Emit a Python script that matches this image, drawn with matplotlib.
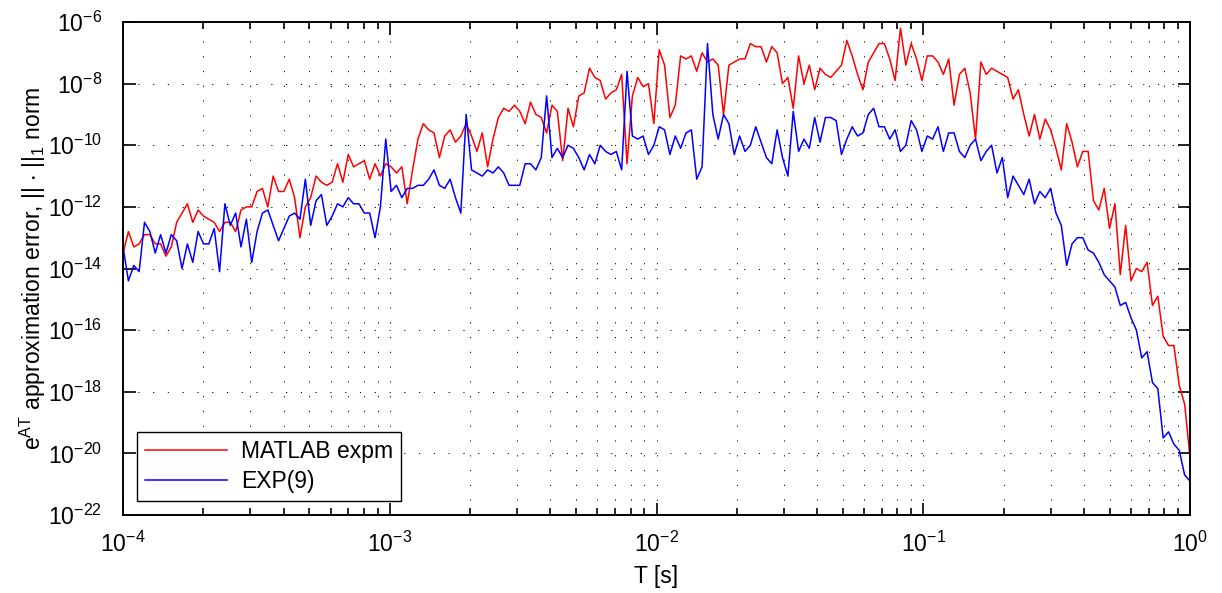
import numpy as np
import matplotlib
matplotlib.use("Agg")
import matplotlib.pyplot as plt
from matplotlib.ticker import LogLocator, NullLocator, FixedLocator, LogFormatterSciNotation

plt.rcParams['font.family'] = ['Liberation Sans', 'DejaVu Sans']
plt.rcParams['mathtext.default'] = 'regular'
plt.rcParams['axes.unicode_minus'] = False

# sample times, 200 log-spaced points between 1e-4 and 1 s
T = np.logspace(-4, 0, 200)

# log10 of the ||.||_1 error of e^{AT}, MATLAB expm
expm_log_err = [
    -13.5, -12.8, -13.3, -13.2, -12.9, -12.9, -13.2, -13.2, -13.6, -13.3,
    -12.5, -12.2, -11.9, -12.5, -12.1, -12.3, -12.4, -12.5, -12.8, -12.5,
    -12.5, -12.8, -12.1, -12.0, -12.0, -11.5, -11.4, -12.0, -11.0, -11.5,
    -11.5, -11.1, -11.7, -13.0, -12.0, -11.7, -11.0, -11.2, -11.3, -11.2,
    -10.6, -11.2, -10.3, -10.7, -10.6, -10.5, -11.1, -10.6, -11.0, -10.6,
    -10.7, -10.9, -10.7, -11.9, -10.8, -9.8, -9.3, -9.5, -9.6, -10.4,
    -9.7, -9.5, -9.9, -9.7, -9.3, -9.7, -10.2, -9.6, -10.7, -9.8,
    -9.1, -8.8, -8.9, -8.7, -8.9, -9.3, -8.6, -9.0, -9.1, -9.6,
    -8.7, -8.9, -10.5, -8.8, -9.4, -8.4, -8.3, -7.5, -7.8, -7.9,
    -8.5, -8.3, -8.2, -7.7, -10.6, -8.4, -7.8, -8.1, -8.0, -9.3,
    -6.9, -7.4, -9.1, -8.7, -7.1, -7.2, -7.1, -7.6, -7.0, -7.3,
    -7.2, -7.4, -9.0, -7.4, -7.3, -7.2, -7.2, -6.7, -6.8, -6.8,
    -7.3, -6.8, -7.0, -8.0, -7.8, -8.8, -7.1, -8.0, -7.4, -8.2,
    -7.5, -7.7, -7.8, -7.6, -7.4, -6.6, -7.1, -7.7, -8.2, -7.3,
    -7.0, -6.7, -6.7, -7.2, -7.9, -6.2, -7.4, -6.7, -7.2, -7.9,
    -7.1, -7.1, -7.3, -7.7, -7.2, -8.7, -7.7, -7.5, -8.3, -9.8,
    -7.3, -7.7, -7.5, -7.6, -7.7, -7.8, -8.5, -8.2, -9.0, -9.7,
    -9.0, -9.8, -9.15, -9.5, -10.1, -10.8, -9.3, -9.9, -10.7, -10.2,
    -10.2, -11.8, -12.1, -11.4, -12.7, -11.9, -14.2, -12.6, -14.4, -14.0,
    -14.1, -13.8, -15.2, -14.9, -16.2, -16.5, -16.5, -17.8, -18.4, -20.1,
]

# log10 of the ||.||_1 error of e^{AT}, EXP(9)
exp9_log_err = [
    -13.3, -14.4, -13.9, -14.1, -12.5, -12.8, -13.5, -12.9, -13.5, -12.9,
    -13.1, -14.0, -13.2, -13.8, -12.8, -13.2, -13.2, -12.7, -14.1, -11.9,
    -12.6, -12.2, -13.3, -12.4, -13.8, -12.8, -12.2, -12.1, -12.6, -13.1,
    -12.7, -12.3, -12.2, -12.4, -11.1, -12.6, -11.8, -11.6, -12.6, -12.3,
    -11.9, -12.0, -11.7, -11.9, -11.9, -12.2, -12.2, -13.0, -12.0, -9.8,
    -11.5, -11.3, -11.7, -11.4, -11.4, -11.3, -11.3, -11.1, -10.8, -11.3,
    -11.4, -11.1, -11.7, -12.2, -9.0, -10.8, -10.9, -11.0, -10.8, -10.9,
    -10.7, -10.9, -11.3, -11.3, -11.3, -10.6, -10.6, -10.8, -10.4, -8.4,
    -10.4, -10.1, -10.4, -10.0, -10.1, -10.4, -10.8, -10.3, -10.6, -10.0,
    -10.2, -10.3, -10.2, -10.8, -7.6, -9.7, -9.8, -9.7, -10.3, -10.0,
    -9.4, -9.5, -10.3, -9.7, -10.1, -9.6, -9.5, -11.1, -10.7, -6.7,
    -9.0, -9.8, -9.0, -9.3, -10.3, -9.7, -10.2, -10.0, -9.4, -9.9,
    -10.4, -10.6, -9.5, -10.4, -11.0, -8.9, -10.2, -9.8, -10.1, -9.1,
    -9.9, -9.1, -9.1, -9.2, -10.3, -9.8, -9.4, -9.7, -9.6, -9.0,
    -8.8, -9.4, -9.4, -9.8, -9.5, -10.2, -10.0, -9.2, -9.5, -10.2,
    -9.7, -9.8, -9.4, -10.2, -9.6, -9.6, -10.2, -10.4, -10.0, -9.8,
    -10.5, -10.2, -10.0, -10.9, -10.4, -11.7, -11.0, -11.3, -11.6, -11.1,
    -11.9, -11.5, -11.7, -11.4, -12.2, -12.6, -13.9, -13.2, -13.0, -13.0,
    -13.4, -13.5, -13.8, -14.2, -14.4, -14.6, -15.2, -15.1, -15.6, -16.0,
    -16.9, -16.7, -17.7, -17.9, -19.5, -19.3, -19.7, -19.9, -20.7, -20.9,
]

y_tick_exps = [-22, -20, -18, -16, -14, -12, -10, -8, -6]

FS = 16.5

fig = plt.figure(figsize=(12.22, 5.93), dpi=100)
ax = fig.add_axes([0.1007, 0.1315, 0.8731, 0.8314])

ax.loglog(T, 10.0 ** np.array(expm_log_err), color=(1, 0, 0), lw=1.1, label='MATLAB expm')
ax.loglog(T, 10.0 ** np.array(exp9_log_err), color=(0, 0, 1), lw=1.1, label='EXP(9)')

ax.set_xlim(1e-4, 1)
ax.set_ylim(1e-22, 1e-6)

ax.xaxis.set_major_locator(LogLocator(base=10, subs=(1.0,)))
ax.xaxis.set_minor_locator(LogLocator(base=10, subs=np.arange(2, 10)))
ax.yaxis.set_major_locator(FixedLocator([10.0 ** e for e in y_tick_exps]))
ax.yaxis.set_major_formatter(LogFormatterSciNotation())
ax.yaxis.set_minor_locator(NullLocator())

ax.tick_params(which='both', direction='in', top=True, right=True, labelsize=FS, width=1.2)
ax.tick_params(which='major', length=9)
ax.tick_params(which='minor', length=5)
ax.tick_params(axis='x', pad=12)
ax.tick_params(axis='y', pad=15)
for lbl in ax.get_yticklabels():
    lbl.set_verticalalignment('center_baseline')

grid_style = dict(color='k', linestyle=(0, (1.2, 14)), lw=0.7)
ax.grid(True, which='major', axis='both', **grid_style)
ax.grid(True, which='minor', axis='x', **grid_style)

for s in ax.spines.values():
    s.set_linewidth(1.4)

ax.set_xlabel('T [s]', fontsize=FS, labelpad=6)
ax.set_ylabel(r'e$^{AT}$ approximation error, || $\cdot$ ||$_1$ norm', fontsize=FS, labelpad=0)

leg = ax.legend(loc='lower left', fontsize=FS, fancybox=False, framealpha=1,
                edgecolor='k', handlelength=3.6, handletextpad=0.6,
                borderaxespad=0.6, labelspacing=0.3, borderpad=0.35)
leg.get_frame().set_linewidth(1.0)

fig.savefig('out.png', dpi=100)
